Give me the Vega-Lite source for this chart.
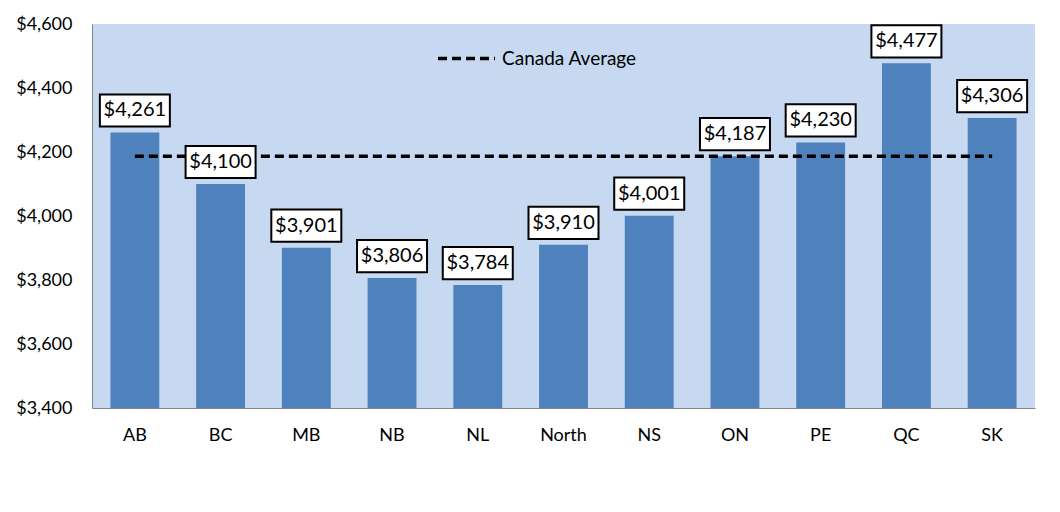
{
  "$schema": "https://vega.github.io/schema/vega-lite/v6.json",
  "width": 943,
  "height": 384,
  "autosize": {"type": "none"},
  "padding": {"left": 92, "top": 24, "right": 25, "bottom": 104},
  "background": "white",
  "config": {
    "view": {"fill": "#C6D9F1", "stroke": null},
    "font": "Lato",
    "axis": {"labelFont": "Lato", "labelFontSize": 18, "labelColor": "#000000", "domainColor": "#868686", "domainWidth": 1, "ticks": false, "grid": false, "title": null}
  },
  "data": {"values": [
    {"prov": "AB", "cost": 4261, "avg": 4187},
    {"prov": "BC", "cost": 4100, "avg": 4187},
    {"prov": "MB", "cost": 3901, "avg": 4187},
    {"prov": "NB", "cost": 3806, "avg": 4187},
    {"prov": "NL", "cost": 3784, "avg": 4187},
    {"prov": "North", "cost": 3910, "avg": 4187},
    {"prov": "NS", "cost": 4001, "avg": 4187},
    {"prov": "ON", "cost": 4187, "avg": 4187},
    {"prov": "PE", "cost": 4230, "avg": 4187},
    {"prov": "QC", "cost": 4477, "avg": 4187},
    {"prov": "SK", "cost": 4306, "avg": 4187}
  ]},
  "encoding": {
    "x": {"field": "prov", "type": "nominal", "sort": null,
      "scale": {"paddingInner": 0.43, "paddingOuter": 0.215},
      "axis": {"labelAngle": 0, "labelPadding": 18}}
  },
  "layer": [
    {
      "mark": {"type": "bar", "color": "#4F81BD"},
      "encoding": {
        "y": {"field": "cost", "type": "quantitative",
          "scale": {"domain": [3400, 4600], "zero": false, "nice": false},
          "axis": {"values": [3400, 3600, 3800, 4000, 4200, 4400, 4600], "format": "$,.0f", "labelPadding": 20}},
        "y2": {"datum": 3400}
      }
    },
    {
      "mark": {"type": "line", "strokeDash": [9, 5], "strokeWidth": 3.5},
      "encoding": {
        "y": {"field": "avg", "type": "quantitative"},
        "color": {"datum": "Canada Average", "type": "nominal",
          "scale": {"range": ["#000000"]},
          "legend": {"title": null, "orient": "none", "legendX": 344, "legendY": 4,
            "symbolType": "stroke", "symbolSize": 3249, "symbolStrokeWidth": 3.5, "symbolDash": [9, 5],
            "labelFont": "Lato", "labelFontSize": 19, "labelColor": "#000000", "labelOffset": 5}}
      }
    },
    {
      "mark": {"type": "point", "shape": "M-1,-0.46L1,-0.46L1,0.46L-1,0.46Z", "size": 4900, "filled": true, "fill": "white", "stroke": "black", "strokeWidth": 2, "opacity": 1, "yOffset": -22},
      "encoding": {
        "y": {"field": "cost", "type": "quantitative"}
      }
    },
    {
      "mark": {"type": "text", "fontSize": 20, "font": "Lato", "color": "black", "baseline": "middle", "yOffset": -22},
      "encoding": {
        "y": {"field": "cost", "type": "quantitative"},
        "text": {"field": "cost", "type": "quantitative", "format": "$,.0f"}
      }
    }
  ]
}
